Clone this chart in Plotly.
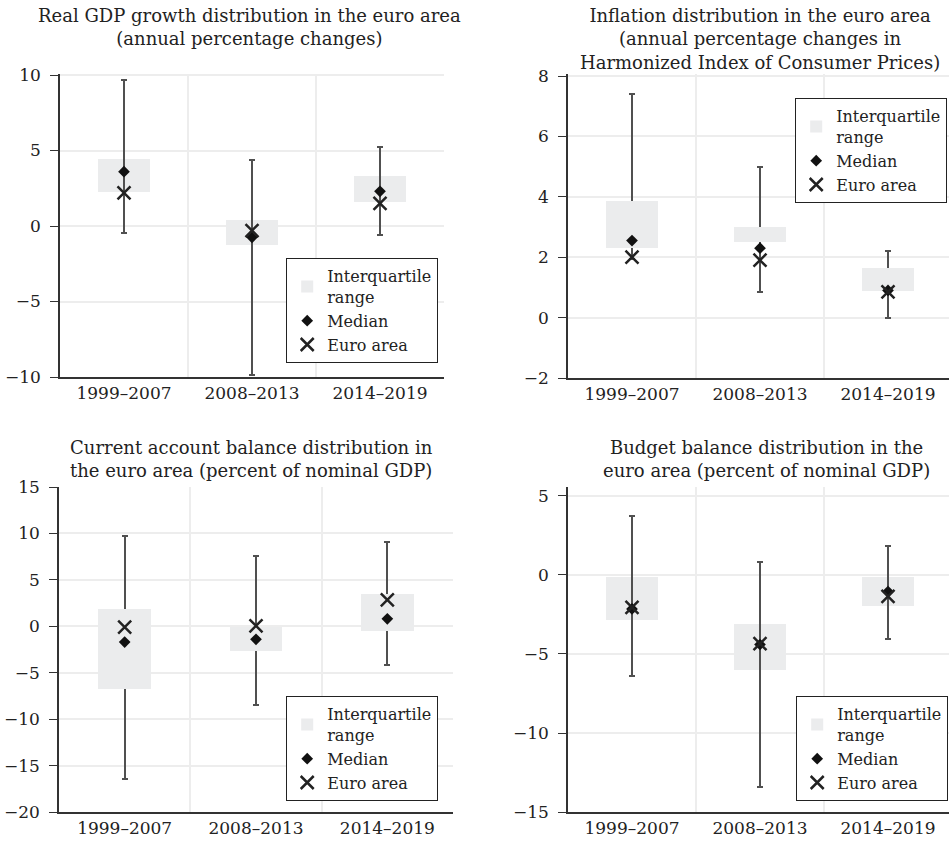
import plotly.graph_objects as go

periods = ["1999–2007", "2008–2013", "2014–2019"]

# Real GDP growth
gdp_max = [9.7, 4.4, 5.2]
gdp_q3 = [4.45, 0.4, 3.35]
gdp_q1 = [2.3, -1.25, 1.65]
gdp_min = [-0.45, -9.85, -0.6]
gdp_median = [3.6, -0.75, 2.3]
gdp_euro = [2.2, -0.3, 1.5]

# Inflation (HICP)
inf_max = [7.4, 5.0, 2.2]
inf_q3 = [3.85, 3.0, 1.65]
inf_q1 = [2.3, 2.5, 0.9]
inf_min = [1.95, 0.85, 0.0]
inf_median = [2.55, 2.3, 0.9]
inf_euro = [2.0, 1.9, 0.85]

# Current account balance
ca_max = [9.7, 7.6, 9.1]
ca_q3 = [1.85, -0.1, 3.5]
ca_q1 = [-6.8, -2.65, -0.5]
ca_min = [-16.4, -8.5, -4.2]
ca_median = [-1.7, -1.4, 0.8]
ca_euro = [-0.1, 0.05, 2.85]

# Budget balance
bb_max = [3.75, 0.8, 1.85]
bb_q3 = [-0.1, -3.05, -0.1]
bb_q1 = [-2.8, -6.0, -1.95]
bb_min = [-6.4, -13.4, -4.05]
bb_median = [-2.15, -4.4, -1.05]
bb_euro = [-2.05, -4.35, -1.35]

titles = [
    "Real GDP growth distribution in the euro area<br>(annual percentage changes)",
    "Inflation distribution in the euro area<br>(annual percentage changes in<br>Harmonized Index of Consumer Prices)",
    "Current account balance distribution in<br>the euro area (percent of nominal GDP)",
    "Budget balance distribution in the<br>euro area (percent of nominal GDP)",
]

FONT = "DejaVu Serif"
FS = 17
TXT = "#222222"
IQR_COL = "#ebeced"
WHISK = "#505050"
GRID = "#ededed"

W, H = 949, 846
xs = [0, 1, 2]

panels = [
    dict(mx=gdp_max, q3=gdp_q3, q1=gdp_q1, mn=gdp_min, med=gdp_median, eu=gdp_euro,
         px=(60, 444), py=(73.5, 377), yr=[-10, 10.1], dt=5, box_over=False,
         leg=(438, 258), title_xy=(249, 3)),
    dict(mx=inf_max, q3=inf_q3, q1=inf_q1, mn=inf_min, med=inf_median, eu=inf_euro,
         px=(568, 949), py=(73.9, 378), yr=[-2, 8.07], dt=2, box_over=True,
         leg=(947, 98), title_xy=(760, 3)),
    dict(mx=ca_max, q3=ca_q3, q1=ca_q1, mn=ca_min, med=ca_median, eu=ca_euro,
         px=(59, 453), py=(487, 812), yr=[-20, 15], dt=5, box_over=True,
         leg=(438, 696), title_xy=(252, 435)),
    dict(mx=bb_max, q3=bb_q3, q1=bb_q1, mn=bb_min, med=bb_median, eu=bb_euro,
         px=(568, 949), py=(486.5, 812), yr=[-15, 5.6], dt=5, box_over=False,
         leg=(948, 696), title_xy=(766, 435)),
]

fig = go.Figure()
annotations = []
layout = {}

for i, p in enumerate(panels):
    n = i + 1
    xa = "x" if n == 1 else f"x{n}"
    ya = "y" if n == 1 else f"y{n}"
    lg = "legend" if n == 1 else f"legend{n}"

    whisk = go.Bar(
        x=xs, y=[0, 0, 0], base=p["med"], width=0.02,
        marker=dict(color="rgba(0,0,0,0)", line=dict(width=0)),
        error_y=dict(type="data", symmetric=False,
                     array=[a - m for a, m in zip(p["mx"], p["med"])],
                     arrayminus=[m - b for m, b in zip(p["med"], p["mn"])],
                     color=WHISK, thickness=2, width=3),
        showlegend=False, hoverinfo="skip", xaxis=xa, yaxis=ya,
    )
    iqr = go.Bar(
        x=xs, y=[h - l for h, l in zip(p["q3"], p["q1"])], base=p["q1"], width=0.4,
        marker=dict(color=IQR_COL, line=dict(width=0)),
        name="Interquartile<br>range", legend=lg, xaxis=xa, yaxis=ya,
    )
    if p["box_over"]:
        fig.add_trace(whisk)
        fig.add_trace(iqr)
    else:
        fig.add_trace(iqr)
        fig.add_trace(whisk)

    fig.add_trace(go.Scatter(
        x=xs, y=p["med"], mode="markers", name="Median",
        marker=dict(symbol="diamond", size=9, color="#111111"),
        legend=lg, xaxis=xa, yaxis=ya,
    ))
    fig.add_trace(go.Scatter(
        x=xs, y=p["eu"], mode="markers", name="Euro area",
        marker=dict(symbol="x-thin", size=13, color="#222222",
                    line=dict(width=2.5, color="#222222")),
        legend=lg, xaxis=xa, yaxis=ya,
    ))

    x0, x1 = p["px"]
    ytop, ybot = p["py"]
    xrange = [-0.5, -0.5 + (x1 - x0) / ((x1 - x0) / 3 if x1 - x0 > 390 else 128)]

    layout["xaxis" if n == 1 else f"xaxis{n}"] = dict(
        domain=[x0 / W, min(x1 / W, 1.0)], range=xrange, anchor=ya,
        tickmode="array", tickvals=xs, ticktext=periods, automargin=False,
        showgrid=False, zeroline=False, showline=True, linecolor="#333333", linewidth=1.5,
        ticks="", tickfont=dict(family=FONT, size=FS, color=TXT),
        minor=dict(tickmode="array", tickvals=[0.5, 1.5], showgrid=True,
                   gridcolor=GRID, gridwidth=2, ticks=""),
        fixedrange=True,
    )
    layout["yaxis" if n == 1 else f"yaxis{n}"] = dict(
        domain=[1 - ybot / H, 1 - ytop / H], range=p["yr"], anchor=xa, automargin=False,
        dtick=p["dt"], tick0=0, showgrid=True, gridcolor=GRID, gridwidth=2,
        zeroline=False, showline=True, linecolor="#333333", linewidth=1.5,
        ticks="outside", ticklen=8, tickcolor="#333333", tickwidth=1.2,
        tickfont=dict(family=FONT, size=FS, color=TXT), ticklabelstandoff=6,
        tickformat="d", fixedrange=True,
    )
    lx, ly = p["leg"]
    layout[lg] = dict(
        x=lx / W, y=1 - ly / H, xanchor="right", yanchor="top",
        bgcolor="white", bordercolor="#222222", borderwidth=1.2,
        font=dict(family=FONT, size=16, color=TXT),
        tracegroupgap=0, itemsizing="trace",
    )
    tx, ty = p["title_xy"]
    annotations.append(dict(
        text=titles[i], x=tx / W, y=1 - ty / H, xref="paper", yref="paper",
        xanchor="center", yanchor="top", showarrow=False, align="center",
        font=dict(family=FONT, size=18, color=TXT),
    ))

fig.update_layout(
    template="none",
    width=W, height=H, margin=dict(l=0, r=0, t=0, b=0, autoexpand=False),
    paper_bgcolor="white", plot_bgcolor="white",
    barmode="overlay", bargap=0, annotations=annotations,
    font=dict(family=FONT, size=FS, color=TXT),
    **layout,
)

fig.write_html("out.html", config={"displayModeBar": False},
               post_script="document.body.style.margin='0';document.body.style.padding='0';")
